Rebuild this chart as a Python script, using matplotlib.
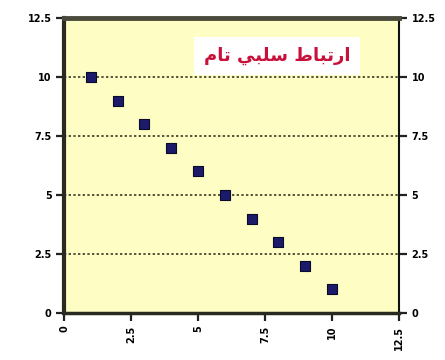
import matplotlib
matplotlib.use("Agg")
import matplotlib.pyplot as plt
from matplotlib.ticker import FixedLocator, FixedFormatter

# Data: perfect negative correlation
x_vals = [1, 2, 3, 4, 5, 6, 7, 8, 9, 10]
y_vals = [10, 9, 8, 7, 6, 5, 4, 3, 2, 1]
tick_vals = [0, 2.5, 5, 7.5, 10, 12.5]
tick_labels = ["0", "2.5", "5", "7.5", "10", "12.5"]
# "ارتباط سلبي تام" written in Arabic presentation forms, visual order
title_text = "\ufee1\ufe8e\ufe97 \ufef2\ufe92\ufee0\ufeb3 \ufec1\ufe8e\ufe92\ufe97\ufead\ufe8d"

fig = plt.figure(figsize=(4.45, 3.6), dpi=100)
fig.patch.set_facecolor("white")
ax = fig.add_axes([64 / 445, 1 - 313 / 360, (399 - 64) / 445, (313 - 18) / 360])
ax.set_facecolor("#fdfdc4")

ax.set_xlim(0, 12.5)
ax.set_ylim(0, 12.5)

for v in tick_vals[1:-1]:
    ax.axhline(v, color="#55553a", lw=1.4, ls=(0, (1.2, 1.2)), zorder=1)

ax.scatter(x_vals, y_vals, marker="s", s=48, facecolor="#1c1a6a",
           edgecolor="#0a0a2a", linewidth=0.8, zorder=3)

ax.xaxis.set_major_locator(FixedLocator(tick_vals))
ax.xaxis.set_major_formatter(FixedFormatter(tick_labels))
ax.yaxis.set_major_locator(FixedLocator(tick_vals))
ax.yaxis.set_major_formatter(FixedFormatter(tick_labels))

ax.tick_params(axis="x", direction="out", length=6, width=1.6, color="#222222",
               labelsize=7, labelrotation=90, pad=3)
ax.tick_params(axis="y", direction="out", length=6, width=1.6, color="#222222",
               labelsize=7, left=True, right=True, labelleft=True, labelright=True, pad=3)
for lbl in ax.get_xticklabels() + ax.get_yticklabels():
    lbl.set_fontweight("bold")
for t in ax.yaxis.get_major_ticks():
    t.label2.set_fontweight("bold")
    t.label2.set_fontsize(7)

ax.spines["left"].set_linewidth(3)
ax.spines["left"].set_color("#2a2a20")
ax.spines["bottom"].set_linewidth(2.5)
ax.spines["bottom"].set_color("#2a2a20")
ax.spines["top"].set_linewidth(3.5)
ax.spines["top"].set_color("#4a4a3c")
ax.spines["right"].set_linewidth(1.5)
ax.spines["right"].set_color("#111111")

ax.text(7.95, 10.9, title_text, family="DejaVu Sans", fontsize=13, fontweight="bold",
        color="#c8103a", ha="center", va="center", zorder=4,
        bbox=dict(boxstyle="square,pad=0.55", facecolor="white", edgecolor="none"))

fig.savefig("out.png", dpi=100)
